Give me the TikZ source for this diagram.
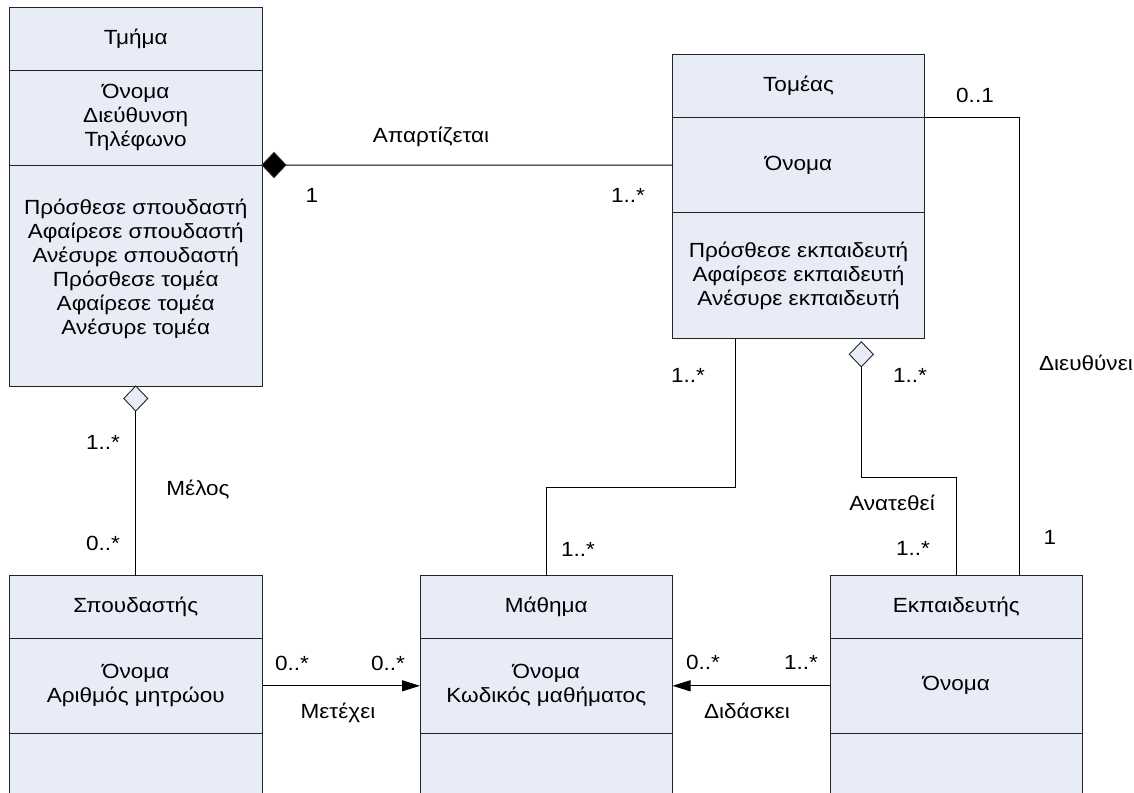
\documentclass[tikz,border=0pt]{standalone}
\usepackage{fontspec}
\setmainfont{Liberation Sans}[FakeStretch=1.1]
\usetikzlibrary{arrows.meta,shapes.geometric}
\definecolor{boxfill}{RGB}{232,236,247}
\definecolor{boxline}{RGB}{35,35,35}
\newcommand{\umlfont}{\fontsize{20.5}{24}\selectfont}

\begin{document}
\begin{tikzpicture}[x=1pt,y=-1pt,
  comp/.style={draw=boxline, fill=boxfill, line width=1pt, minimum width=252.5pt,
    inner sep=0pt, outer sep=0pt, anchor=north west, align=center, font=\umlfont},
  lbl/.style={inner sep=0pt, align=center, font=\umlfont},
  assoc/.style={draw=black, line width=1pt},
  diam/.style={diamond, draw=boxline, line width=0.9pt, minimum width=24pt,
    minimum height=25pt, inner sep=0pt, outer sep=0pt},
  navarrow/.style={assoc, -{Triangle[length=18pt,width=11pt]}}
]
\useasboundingbox (0,0) rectangle (1134,792);
\clip (0,0) rectangle (1134,792);

% class: Tmima
\node[comp, minimum height=63.4pt] (tmT) at (9.5,7.3) {Τμήμα};
\node[comp, minimum height=94.3pt] (tmA) at (tmT.south west) {Όνομα\\Διεύθυνση\\Τηλέφωνο};
\node[comp, minimum height=221pt] (tmO) at (tmA.south west) {};
\node[lbl] (tmOps) at (135.75,268.5) {Πρόσθεσε σπουδαστή\\Αφαίρεσε σπουδαστή\\Ανέσυρε σπουδαστή\\Πρόσθεσε τομέα\\Αφαίρεσε τομέα\\Ανέσυρε τομέα};

% class: Tomeas
\node[comp, minimum height=63.4pt] (tomT) at (672.3,54.3) {Τομέας};
\node[comp, minimum height=95pt] (tomA) at (tomT.south west) {Όνομα};
\node[comp, minimum height=125.6pt] (tomO) at (tomA.south west) {Πρόσθεσε εκπαιδευτή\\Αφαίρεσε εκπαιδευτή\\Ανέσυρε εκπαιδευτή};

% class: Spoudastis
\node[comp, minimum height=62.6pt] (spT) at (9.5,575.7) {Σπουδαστής};
\node[comp, minimum height=95pt] (spA) at (spT.south west) {Όνομα\\Αριθμός μητρώου};
\node[comp, minimum height=70pt] (spO) at (spA.south west) {};

% class: Mathima
\node[comp, minimum height=62.6pt] (maT) at (420,575.7) {Μάθημα};
\node[comp, minimum height=95pt] (maA) at (maT.south west) {Όνομα\\Κωδικός μαθήματος};
\node[comp, minimum height=70pt] (maO) at (maA.south west) {};

% class: Ekpaideftis
\node[comp, minimum height=62.6pt] (ekT) at (830,575.7) {Εκπαιδευτής};
\node[comp, minimum height=95pt] (ekA) at (ekT.south west) {Όνομα};
\node[comp, minimum height=70pt] (ekO) at (ekA.south west) {};

% composition: Tmima - Tomeas
\node[diam, fill=black, anchor=west] (agg1) at (tmA.south east) {};
\draw[assoc] (agg1.east) -- (tomA.west);
\node[lbl] (l1) at (431,137) {Απαρτίζεται};
\node[lbl] (l2) at (312,195) {1};
\node[lbl] (l3) at (628,195) {1..*};

% aggregation: Tmima - Spoudastis
\node[diam, fill=boxfill, anchor=north] (agg2) at (tmO.south) {};
\draw[assoc] (agg2.south) -- (spT.north);
\node[lbl] (l4) at (103,442) {1..*};
\node[lbl] (l5) at (198,490) {Μέλος};
\node[lbl] (l6) at (103,543) {0..*};

% association: Tomeas - Mathima
\draw[assoc] ([xshift=62.7pt]tomO.south west) -- ++(0,149) -| (maT.north);
\node[lbl] (l7) at (688,375) {1..*};
\node[lbl] (l8) at (578,549) {1..*};

% aggregation: Tomeas - Ekpaideftis
\node[diam, fill=boxfill, anchor=north] (agg3) at ([xshift=189pt,yshift=-3.5pt]tomO.south west) {};
\draw[assoc] (agg3.south) -- ++(0,111) -| (ekT.north);
\node[lbl] (l9) at (910,375) {1..*};
\node[lbl] (l10) at (892,503) {Ανατεθεί};
\node[lbl] (l11) at (913,548) {1..*};

% association: Tomeas - Ekpaideftis (head)
\draw[assoc] (tomA.north east) -| ([xshift=189.8pt]ekT.north west);
\node[lbl] (l12) at (975,95) {0..1};
\node[lbl, anchor=east] (l13) at (1133,363) {Διευθύνει};
\node[lbl] (l14) at (1050,537) {1};

% navigable associations
\draw[navarrow] (spA.east) -- (maA.west);
\node[lbl] (l15) at (292,663) {0..*};
\node[lbl] (l16) at (388,663) {0..*};
\node[lbl] (l17) at (338,713) {Μετέχει};

\draw[navarrow] (ekA.west) -- (maA.east);
\node[lbl] (l18) at (703,662) {0..*};
\node[lbl] (l19) at (801,662) {1..*};
\node[lbl] (l20) at (747,711) {Διδάσκει};
\end{tikzpicture}
\end{document}
